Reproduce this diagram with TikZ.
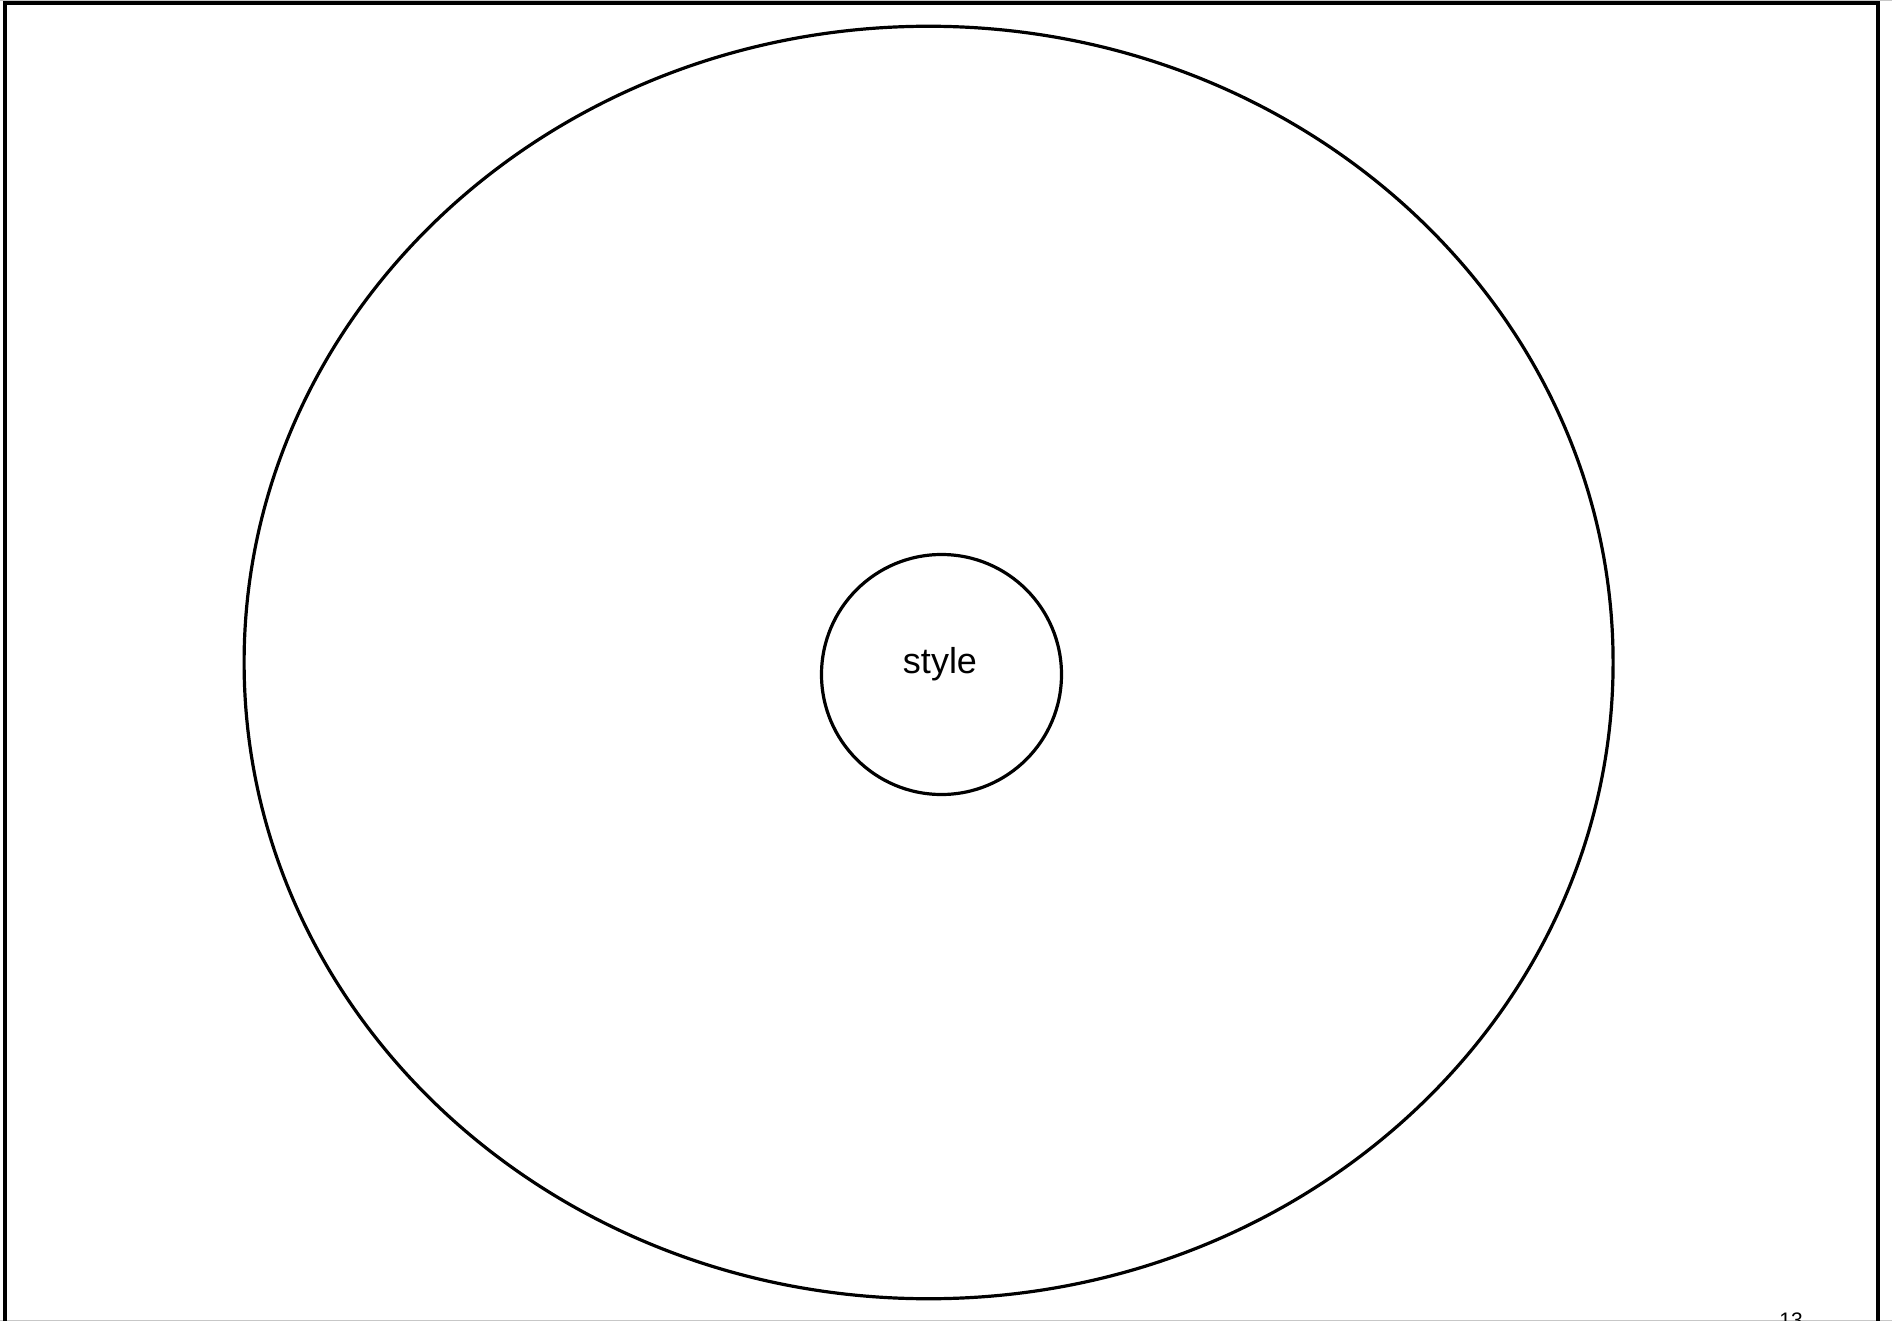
\documentclass[tikz,border=0pt]{standalone}
\usepackage{fontspec}
\setmainfont{Liberation Sans}
\usetikzlibrary{shapes.geometric}
\tikzset{
  outline/.style={draw=black, line width=1.6pt},
  framestyle/.style={draw=black, line width=2pt},
  pageline/.style={draw=black!22, line width=0.6pt},
}
\begin{document}
\begin{tikzpicture}[x=0.5pt,y=-0.5pt]
\useasboundingbox (0,0) rectangle (1892,1321);
\clip (0,0) rectangle (1892,1321);
\fill[white] (0,0) rectangle (1892,1321);
% page separators
\coordinate (gtl) at (0,0.6);
\coordinate (gtr) at (1892,0.6);
\coordinate (gbl) at (0,1320.4);
\coordinate (gbr) at (1892,1320.4);
\draw[pageline] (gtl) -- (gtr);
\draw[pageline] (gbl) -- (gbr);
% frame (bottom edge lies below the visible area)
\coordinate (fbl) at (5.3,1340);
\coordinate (ftl) at (5.3,3.3);
\coordinate (ftr) at (1877.5,3.3);
\coordinate (fbr) at (1877.5,1340);
\draw[framestyle] (fbl) -- (ftl) -- (ftr) -- (fbr);
% outer ellipse (sizes in pt: 1 px = 0.5 pt)
\node[ellipse, outline, inner sep=0pt, minimum width=684.5pt, minimum height=636.25pt] (outer) at (928.6,662.5) {};
% inner circle
\node[circle, outline, inner sep=0pt, minimum size=120pt] (inner) at (941.5,674.5) {};
\node[anchor=base, inner sep=0pt, font=\fontsize{18pt}{21pt}\selectfont] (lbl) at (940,673) {style};
% page number
\node[anchor=base, inner sep=0pt, font=\fontsize{10.5pt}{12pt}\selectfont] (pnum) at (1791,1327) {13};
\end{tikzpicture}
\end{document}
